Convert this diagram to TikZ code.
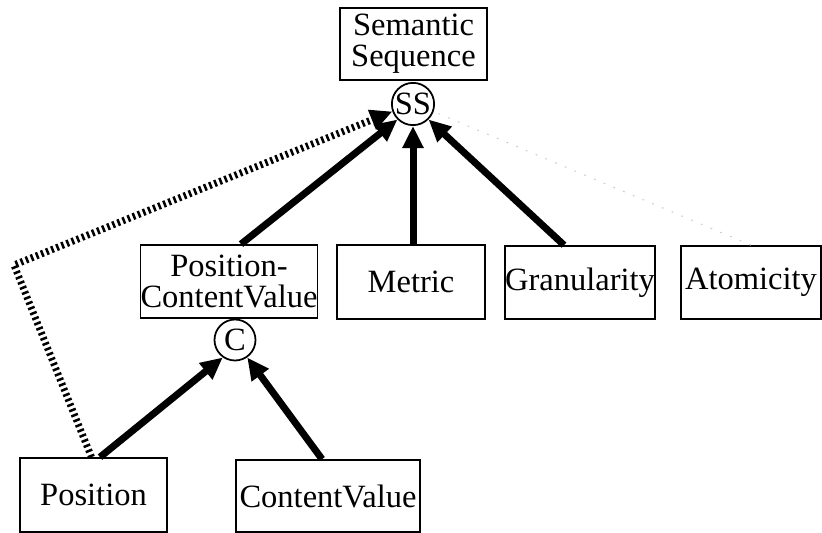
\documentclass[tikz,border=0pt]{standalone}
\usepackage{fontspec}
\setmainfont{Liberation Serif}
\usetikzlibrary{arrows.meta}

\tikzset{
  box/.style={draw, line width=1pt, inner sep=0pt, align=center,
    font=\fontsize{18.5}{17.5}\selectfont},
  joint/.style={circle, draw, line width=1pt, minimum size=0.82cm, inner sep=0pt,
    font=\fontsize{18.5}{17.5}\selectfont},
  link/.style={line width=0.14cm, -{Triangle[length=0.44cm, width=0.4cm]}},
  hatch/.style={link, dash pattern=on 0.05cm off 0.06cm},
  faint/.style={gray!40, line width=0.6pt, dash pattern=on 1pt off 5pt},
}

\begin{document}
\begin{tikzpicture}[x=0.02cm, y=-0.02cm]
  \useasboundingbox (0,0) rectangle (822,533);
  % top concept and its join
  \node[box, minimum width=2.94cm, minimum height=1.44cm] (sem) at (413.5,44) {Semantic\\Sequence};
  \node[joint] (ss) at (413,104) {SS};
  % middle row
  \node[box, minimum width=3.44cm, minimum height=1.46cm] (pcv) at (229,281.5) {Position-\\ContentValue};
  \node[box, minimum width=2.96cm, minimum height=1.48cm] (metric) at (411,282) {Metric};
  \node[box, minimum width=2.96cm, minimum height=1.46cm] (gran) at (580,282.5) {Granularity};
  \node[box, minimum width=2.80cm, minimum height=1.46cm] (atom) at (751,282.5) {Atomicity};
  \node[joint] (c) at (235,340) {C};
  % bottom row
  \node[box, minimum width=2.94cm, minimum height=1.48cm] (pos) at (93.5,495) {Position};
  \node[box, minimum width=3.68cm, minimum height=1.44cm] (cv) at (328,496) {ContentValue};
  \coordinate (bend) at (14,265);

  \draw[link] ([xshift=0.24cm]pcv.north) -- (ss.225);
  \draw[link] (ss.south |- metric.north) -- (ss.south);
  \draw[link] ([xshift=-0.32cm]gran.north) -- (ss.-45);
  \draw[faint] (atom.north) -- (ss.-20);
  \draw[link] ([xshift=0.13cm]pos.north) -- (c.235);
  \draw[link] ([xshift=-0.12cm]cv.north) -- (c.-55);
  \draw[hatch] ([xshift=-0.04cm]pos.north) -- (bend) -- (ss.200);
\end{tikzpicture}
\end{document}
